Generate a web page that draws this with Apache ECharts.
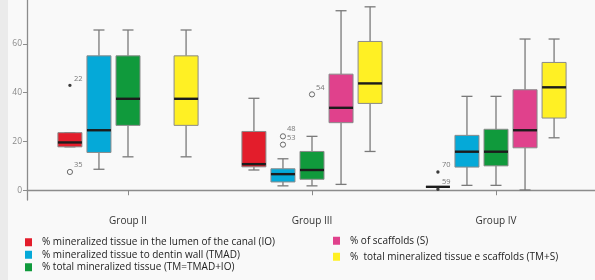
<!DOCTYPE html>
<html>
<head>
<meta charset="utf-8">
<script src="https://cdn.jsdelivr.net/npm/echarts@6/dist/echarts.min.js"></script>
<style>
  html, body { margin: 0; padding: 0; background: #f9f9f9; }
  #chart { width: 595px; height: 280px; }
</style>
</head>
<body>
<div id="chart"></div>
<script>
// categories
const groups = ['Group II', 'Group III', 'Group IV']
const yTicks = [0, 20, 40, 60]

// box stats per group: [low, q1, median, q3, high], null = no box
const ioStats = [[17.8, 17.8, 19.6, 23.6, 23.6], [8.3, 9.6, 10.7, 24.1, 37.7], [1.4, 1.4, 1.4, 1.4, 1.4]]
const tmadStats = [[8.6, 15.5, 24.6, 55.1, 65.7], [1.8, 3.4, 6.6, 8.8, 12.9], [2.0, 9.5, 15.8, 22.5, 38.5]]
const tmStats = [[13.7, 26.6, 37.5, 55.1, 65.7], [1.8, 4.5, 8.3, 15.9, 22.1], [2.0, 10.0, 15.8, 25.0, 38.5]]
const sStats = [null, [2.4, 27.7, 33.8, 47.6, 73.6], [0.1, 17.4, 24.6, 41.2, 62.0]]
const tmsStats = [[13.7, 26.6, 37.5, 55.1, 65.7], [15.9, 35.6, 43.8, 61.0, 75.2], [21.5, 29.6, 42.2, 52.4, 62.0]]

// outliers: [group, box, value, case label, kind]
const outliers = [
  [0, 0, 43.0, '22', 'extreme'],
  [0, 0, 7.5, '35', 'outlier'],
  [1, 1, 22.1, '48', 'outlier'],
  [1, 1, 18.7, '53', 'outlier'],
  [1, 2, 39.3, '54', 'outlier'],
  [2, 0, 7.5, '70', 'extreme'],
  [2, 0, 0.4, '59', 'extreme']
]

const names = [
  '% mineralized tissue in the lumen of the canal (IO)',
  '% mineralized tissue to dentin wall (TMAD)',
  '% total mineralized tissue (TM=TMAD+IO)',
  '% of scaffolds (S)',
  '%  total mineralized tissue e scaffolds (TM+S)'
]
const colors = ['#e31d2b', '#05a9d8', '#109a3c', '#e0418c', '#fff024']
const allStats = [ioStats, tmadStats, tmStats, sStats, tmsStats]

const BOX_W = 24
const FONT = 'Open Sans'

// horizontal position of box k inside its category band (same rule as echarts boxplot)
function boxX (api, g, k) {
  const bw = api.size([1, 0])[0]
  const step = (bw * 0.8 - 2) / 5
  return api.coord([g, 0])[0] + (k - 2) * step
}

function makeBoxSeries (k) {
  const data = []
  allStats[k].forEach((s, i) => { if (s) data.push([i].concat(s)) })
  return {
    name: names[k],
    type: 'custom',
    xAxisIndex: 0,
    yAxisIndex: 0,
    itemStyle: { color: colors[k] },
    data: data,
    renderItem: function (params, api) {
      const g = api.value(0)
      const x = boxX(api, g, k)
      const y = v => api.coord([g, v])[1]
      const yLow = y(api.value(1))
      const yQ1 = y(api.value(2))
      const yMed = y(api.value(3))
      const yQ3 = y(api.value(4))
      const yHigh = y(api.value(5))
      const half = BOX_W / 2
      const wStyle = { stroke: '#7a7a7a', lineWidth: 1.3 }
      return {
        type: 'group',
        children: [
          { type: 'line', shape: { x1: x, y1: yQ3, x2: x, y2: yHigh }, style: wStyle },
          { type: 'line', shape: { x1: x, y1: yQ1, x2: x, y2: yLow }, style: wStyle },
          { type: 'line', shape: { x1: x - 5.5, y1: yHigh, x2: x + 5.5, y2: yHigh }, style: wStyle },
          { type: 'line', shape: { x1: x - 5.5, y1: yLow, x2: x + 5.5, y2: yLow }, style: wStyle },
          {
            type: 'rect',
            shape: { x: x - half, y: yQ3, width: BOX_W, height: yQ1 - yQ3 },
            style: { fill: colors[k], stroke: '#8a8a8a', lineWidth: 1 }
          },
          { type: 'line', shape: { x1: x - half, y1: yMed, x2: x + half, y2: yMed }, style: { stroke: '#1c1c1c', lineWidth: 2.4 } }
        ]
      }
    }
  }
}

const boxSeries = [0, 1, 2, 3, 4].map(makeBoxSeries)

const outlierSeries = {
  name: 'outliers',
  type: 'custom',
  xAxisIndex: 0,
  yAxisIndex: 0,
  data: outliers,
  renderItem: function (params, api) {
    const g = api.value(0)
    const k = api.value(1)
    const x = boxX(api, g, k)
    const y = api.coord([g, api.value(2)])[1]
    const kind = outliers[params.dataIndex][4]
    const label = outliers[params.dataIndex][3]
    const mark = kind === 'extreme'
      ? { type: 'circle', shape: { cx: x, cy: y, r: 1.7 }, style: { fill: '#3a3a3a' } }
      : { type: 'circle', shape: { cx: x, cy: y, r: 2.6 }, style: { fill: 'none', stroke: '#6a6a6a', lineWidth: 1 } }
    return {
      type: 'group',
      children: [
        mark,
        {
          type: 'text',
          x: x + 4,
          y: y - 7,
          style: { text: label, fontSize: 7.5, fontFamily: FONT, fill: '#777', align: 'left', verticalAlign: 'middle' }
        }
      ]
    }
  }
}

const chart = echarts.init(document.getElementById('chart'))
chart.setOption({
  backgroundColor: '#f9f9f9',
  animation: false,
  graphic: [
    { type: 'rect', left: 0, top: 0, shape: { width: 8, height: 280 }, style: { fill: '#ebebeb' }, z: -10 }
  ],
  legend: [
    {
      data: names.slice(0, 3),
      orient: 'vertical',
      left: 25,
      top: 236,
      padding: 0,
      itemWidth: 7,
      itemHeight: 8,
      itemGap: 0,
      icon: 'rect',
      textStyle: { fontSize: 10, fontFamily: FONT, color: '#222', padding: [0, 0, 0, 5], lineHeight: 12.5 }
    },
    {
      data: names.slice(3),
      orient: 'vertical',
      left: 333,
      top: 234.5,
      padding: 0,
      itemWidth: 7,
      itemHeight: 8,
      itemGap: 3.5,
      icon: 'rect',
      textStyle: { fontSize: 10, fontFamily: FONT, color: '#222', padding: [0, 0, 0, 5], lineHeight: 12.5 }
    }
  ],
  grid: [
    { left: 36, right: 7, top: 0, bottom: 80 },
    { left: 27, right: 0, top: 0, bottom: 80 }
  ],
  xAxis: [
    {
      type: 'category',
      gridIndex: 0,
      data: groups,
      axisLine: { show: false },
      axisTick: { show: true, alignWithLabel: true, length: 5, lineStyle: { color: '#888' } },
      axisLabel: { fontSize: 10, fontFamily: FONT, color: '#333', margin: 16 }
    },
    {
      type: 'value',
      gridIndex: 1,
      min: 0,
      max: 1,
      axisLine: { show: true, lineStyle: { color: '#8c8c8c', width: 1.3 } },
      axisTick: { show: false },
      axisLabel: { show: false },
      splitLine: { show: false }
    }
  ],
  yAxis: [
    {
      type: 'value',
      gridIndex: 0,
      min: -4,
      max: 78,
      show: false,
      splitLine: { show: false }
    },
    {
      type: 'value',
      gridIndex: 1,
      min: -4,
      max: 78,
      axisLine: { show: true, lineStyle: { color: '#8c8c8c', width: 1.3 } },
      axisTick: { show: true, length: 4, customValues: yTicks, lineStyle: { color: '#8c8c8c' } },
      axisLabel: { customValues: yTicks, fontSize: 8.5, fontFamily: FONT, color: '#8a8a8a', margin: 5 },
      splitLine: { show: false }
    }
  ],
  series: boxSeries.concat([outlierSeries])
})
</script>
</body>
</html>
